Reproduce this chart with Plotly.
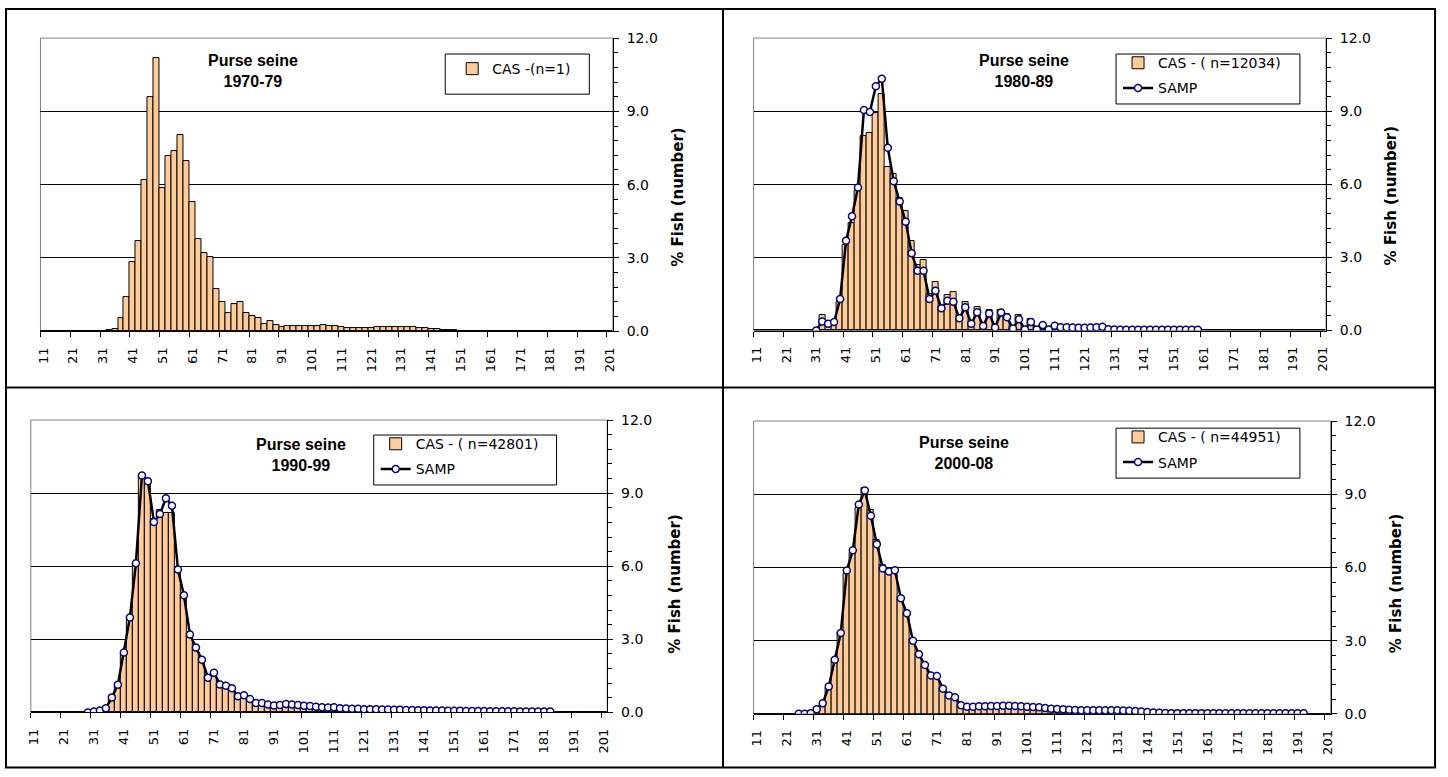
import plotly.graph_objects as go

W, H = 1448, 777

# ---------------- data ----------------
length_cm = list(range(11, 202, 2))            # 96 length classes (2 cm)
boundary_ticks = list(range(10, 201, 10))      # tick marks between classes
label_vals = list(range(11, 202, 10))
label_text = ["11", "21", "31", "41", "51", "61", "71", "81", "91", "101",
              "111", "121", "131", "141", "151", "161", "171", "181", "191", "201"]
y_vals = [0, 3, 6, 9, 12]
y_text = ["0.0", "3.0", "6.0", "9.0", "12.0"]
y_minor = [round(0.6 * k, 1) for k in range(1, 20) if k % 5 != 0]

titles = ["Purse seine<br>1970-79", "Purse seine<br>1980-89",
          "Purse seine<br>1990-99", "Purse seine<br>2000-08"]
cas_names = ["CAS -(n=1)", "CAS - ( n=12034)", "CAS - ( n=42801)", "CAS - ( n=44951)"]

cas_1970 = [0] * 11 + [
    0.04, 0.08, 0.54, 1.38, 2.81, 3.71, 6.17, 9.59, 11.17, 5.87,
    7.19, 7.37, 8.04, 6.98, 5.28, 3.78, 3.21, 3.04, 1.71, 1.18,
    0.75, 1.10, 1.21, 0.74, 0.64, 0.54, 0.31, 0.40, 0.27, 0.17,
    0.20, 0.20, 0.20, 0.20, 0.21, 0.23, 0.24, 0.23, 0.20, 0.16,
    0.13, 0.13, 0.13, 0.13, 0.14, 0.15, 0.17, 0.18, 0.19, 0.19,
    0.18, 0.16, 0.14, 0.12, 0.10, 0.07, 0.05, 0.04, 0.03, 0.02,
    0.02, 0.01, 0.01, 0.01, 0.01, 0.01, 0.01, 0.01, 0.01] + [0] * 16

cas_1980 = [0] * 11 + [
    0.64, 0.25, 0.28, 1.18, 3.50, 4.42, 5.71, 7.98, 8.12, 8.92,
    9.70, 6.71, 6.43, 5.44, 4.90, 3.68, 2.68, 2.89, 1.50, 1.98,
    0.99, 1.45, 1.58, 0.59, 1.15, 0.35, 0.95, 0.24, 0.82, 0.17,
    0.82, 0.68, 0.15, 0.62, 0.11, 0.48, 0.04, 0.24, 0.04, 0.17,
    0.10, 0.10, 0.09, 0.08, 0.07, 0.07, 0.07, 0.08, 0.03] + [0.02] * 15 + [0] * 21

samp_1980 = [None] * 10 + [
    0.00, 0.37, 0.28, 0.35, 1.29, 3.68, 4.69, 5.87, 9.05, 8.97,
    10.02, 10.33, 7.50, 6.12, 5.29, 4.46, 3.17, 2.45, 2.45, 1.29,
    1.63, 0.91, 1.22, 1.18, 0.50, 0.95, 0.28, 0.75, 0.19, 0.70,
    0.12, 0.74, 0.54, 0.08, 0.46, 0.04, 0.35, 0.04, 0.23, 0.04,
    0.20, 0.13, 0.13, 0.12, 0.11, 0.11, 0.12, 0.13, 0.15, 0.05,
    0.04] + [0.03] * 14 + [None] * 21

cas_1990 = [0] * 11 + [
    0.05, 0.15, 0.55, 1.10, 2.40, 3.80, 6.10, 9.70, 9.40, 7.95,
    8.30, 8.20, 8.20, 5.90, 4.80, 3.25, 2.70, 2.20, 1.45, 1.65,
    1.20, 1.10, 1.00, 0.70, 0.72, 0.55, 0.40, 0.38, 0.33, 0.29,
    0.30, 0.32, 0.30, 0.28, 0.26, 0.25, 0.22, 0.20, 0.19, 0.19,
    0.16, 0.15, 0.14, 0.14, 0.12, 0.12, 0.12, 0.11, 0.11, 0.10,
    0.10, 0.09, 0.09, 0.08, 0.08, 0.07, 0.07, 0.06, 0.06, 0.05,
    0.05, 0.05, 0.04, 0.04, 0.04, 0.03, 0.03, 0.03, 0.03, 0.02,
    0.02, 0.02, 0.02, 0.02, 0.02, 0.01] + [0] * 9

samp_1990 = [None] * 9 + [
    0.00, 0.04, 0.08, 0.17, 0.62, 1.14, 2.46, 3.90, 6.12, 9.72,
    9.49, 7.82, 8.14, 8.79, 8.48, 5.87, 4.81, 3.20, 2.67, 2.16,
    1.43, 1.63, 1.15, 1.10, 0.99, 0.67, 0.71, 0.55, 0.39, 0.39,
    0.33, 0.29, 0.31, 0.35, 0.33, 0.31, 0.28, 0.27, 0.24, 0.21,
    0.20, 0.21, 0.17, 0.16, 0.15, 0.15, 0.13, 0.13, 0.13, 0.12,
    0.12, 0.11, 0.11, 0.10, 0.10, 0.09, 0.09, 0.08, 0.08, 0.08,
    0.07, 0.07, 0.07, 0.06, 0.06, 0.06, 0.06, 0.05, 0.05, 0.05,
    0.05, 0.05, 0.04, 0.04, 0.04, 0.04, 0.04, 0.04] + [None] * 9

cas_2000 = [0] * 10 + [
    0.10, 0.35, 1.05, 2.15, 3.35, 5.75, 6.60, 8.45, 9.24, 8.34,
    7.14, 6.10, 5.88, 5.88, 4.80, 4.15, 3.05, 2.48, 2.05, 1.60,
    1.55, 1.05, 0.78, 0.70, 0.40,
    0.26, 0.26, 0.28, 0.28, 0.29, 0.29, 0.30, 0.30, 0.29, 0.28,
    0.26, 0.25, 0.24, 0.21, 0.18, 0.17, 0.16, 0.14, 0.13, 0.12,
    0.12, 0.12, 0.12, 0.12, 0.12, 0.12, 0.11, 0.10, 0.09, 0.08,
    0.06, 0.05, 0.04, 0.03, 0.02] + [0.02] * 6 + [0.01] * 16 + [0] * 4

samp_2000 = [None] * 7 + [
    0.00, 0.00, 0.03, 0.19, 0.43, 1.12, 2.22, 3.31, 5.87, 6.70,
    8.58, 9.15, 8.12, 6.95, 5.96, 5.83, 5.88, 4.74, 4.12, 3.00,
    2.44, 2.00, 1.57, 1.55, 1.03, 0.75, 0.68, 0.35,
    0.29, 0.29, 0.31, 0.31, 0.32, 0.32, 0.33, 0.33, 0.32, 0.31,
    0.29, 0.28, 0.27, 0.24, 0.21, 0.20, 0.19, 0.17, 0.16, 0.15,
    0.15, 0.15, 0.15, 0.15, 0.15, 0.15, 0.14, 0.13, 0.12, 0.10,
    0.08, 0.06, 0.05, 0.04, 0.03] + [0.03] * 6 + [0.02] * 16 + [None] * 4

cas_series = [cas_1970, cas_1980, cas_1990, cas_2000]
samp_series = [None, samp_1980, samp_1990, samp_2000]

# ---------------- layout geometry (pixels) ----------------
panels = [
    dict(x=(35.7, 611.7), y=(30.7, 330.0), tpos=(250, 64.5), ytl=(677, 193),
         box=(443, 47, 588, 88), leg=(450, 46)),
    dict(x=(753.3, 1329.3), y=(30.7, 329.3), tpos=(1025, 64.5), ytl=(1395, 192),
         box=(1118, 47, 1303, 98), leg=(1120, 40)),
    dict(x=(26.0, 606.0), y=(420.7, 719.3), tpos=(298, 456.7), ytl=(674, 588),
         box=(371, 436, 555, 487), leg=(373, 429)),
    dict(x=(753.3, 1334.0), y=(421.7, 720.7), tpos=(965, 454), ytl=(1400, 588),
         box=(1118, 429, 1303, 480), leg=(1120, 422)),
]


def fx(px):
    return px / W


def fy(py):
    return 1 - py / H


VERDANA = "DejaVu Sans, Verdana, sans-serif"
ARIAL = "Liberation Sans, Arial, sans-serif"

fig = go.Figure()
shapes = []
annotations = []
layout = dict(width=W, height=H, autosize=False, margin=dict(l=0, r=0, t=0, b=0),
              paper_bgcolor="white", plot_bgcolor="white", bargap=0, barmode="overlay",
              showlegend=True)

for i, p in enumerate(panels):
    n = i + 1
    sx = "" if n == 1 else str(n)
    legname = "legend" if n == 1 else f"legend{n}"
    xdom = [fx(p["x"][0]), fx(p["x"][1])]
    ydom = [fy(p["y"][1]), fy(p["y"][0])]

    fig.add_trace(go.Bar(
        x=length_cm, y=cas_series[i], width=2, name=cas_names[i],
        marker=dict(color="#FFCC99", line=dict(color="black", width=1)),
        xaxis=f"x{sx}", yaxis=f"y{sx}", legend=legname, legendgroup=f"cas{n}",
        hoverinfo="x+y"))
    if samp_series[i] is not None:
        fig.add_trace(go.Scatter(
            x=length_cm, y=samp_series[i], name="SAMP", mode="lines+markers",
            line=dict(color="black", width=2.5),
            marker=dict(symbol="circle", size=7, color="white",
                        line=dict(color="#000080", width=1.5)),
            xaxis=f"x{sx}", yaxis=f"y{sx}", legend=legname, legendgroup=f"samp{n}"))

    layout[f"xaxis{sx}"] = dict(
        domain=xdom, range=[10, 202], anchor=f"y{sx}", tickmode="array",
        tickvals=label_vals, ticktext=label_text, tickangle=-90,
        ticks="outside", ticklen=5, tickcolor="rgba(0,0,0,0)", ticklabelstandoff=5,
        tickfont=dict(family=VERDANA, size=13, color="black"),
        minor=dict(tickmode="array", tickvals=boundary_ticks, ticks="outside",
                   ticklen=5, tickcolor="black", tickwidth=1, showgrid=False),
        showline=True, linecolor="black", linewidth=1,
        showgrid=False, zeroline=False, fixedrange=True)
    layout[f"yaxis{sx}"] = dict(
        domain=ydom, range=[0, 12], anchor=f"x{sx}", side="right", tickmode="array",
        tickvals=y_vals, ticktext=y_text, ticks="outside", ticklen=5, tickcolor="black",
        ticklabelstandoff=5, tickfont=dict(family=VERDANA, size=14, color="black"),
        showline=True, linecolor="black", linewidth=1, showgrid=True,
        gridcolor="black", gridwidth=1, zeroline=False, fixedrange=True,
        minor=dict(tickmode="array", tickvals=y_minor, ticks="outside", ticklen=4,
                   tickcolor="black", tickwidth=1, showgrid=False))

    # plot-area border
    shapes.append(dict(type="rect", xref=f"x{sx} domain", yref=f"y{sx} domain",
                       x0=0, x1=1, y0=0, y1=1, line=dict(color="#808080", width=1),
                       layer="below"))
    # legend frame
    bx0, by0, bx1, by1 = p["box"]
    shapes.append(dict(type="rect", xref="paper", yref="paper", x0=fx(bx0), x1=fx(bx1),
                       y0=fy(by1), y1=fy(by0), line=dict(color="black", width=1),
                       fillcolor="white", layer="below"))
    layout[legname] = dict(
        x=fx(p["leg"][0]), y=fy(p["leg"][1]), xanchor="left", yanchor="top",
        bgcolor="rgba(0,0,0,0)", borderwidth=0, tracegroupgap=4,
        font=dict(family=VERDANA, size=14, color="black"))

    annotations.append(dict(text="<b>" + titles[i] + "</b>", xref="paper", yref="paper",
                            x=fx(p["tpos"][0]), y=fy(p["tpos"][1]), xanchor="center",
                            yanchor="middle", showarrow=False, align="center",
                            font=dict(family=ARIAL, size=16, color="black")))
    annotations.append(dict(text="<b>% Fish (number)</b>", xref="paper", yref="paper",
                            x=fx(p["ytl"][0]), y=fy(p["ytl"][1]), xanchor="center",
                            yanchor="middle", showarrow=False, textangle=-90,
                            font=dict(family=VERDANA, size=15, color="black")))

# panel frame and dividers
shapes.append(dict(type="rect", xref="paper", yref="paper", x0=fx(1), x1=fx(1439),
                   y0=fy(775.5), y1=fy(1), line=dict(color="black", width=2)))
shapes.append(dict(type="line", xref="paper", yref="paper", x0=fx(722.5), x1=fx(722.5),
                   y0=fy(775.5), y1=fy(1), line=dict(color="black", width=2)))
shapes.append(dict(type="line", xref="paper", yref="paper", x0=fx(1), x1=fx(1439),
                   y0=fy(387.5), y1=fy(387.5), line=dict(color="black", width=2)))

layout["shapes"] = shapes
layout["annotations"] = annotations
fig.update_layout(**layout)

fig.write_html("out.html")
